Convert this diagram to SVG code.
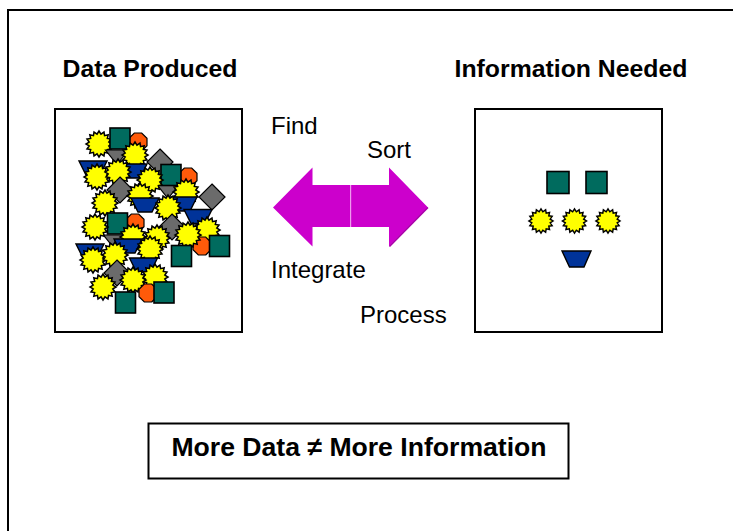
<svg xmlns="http://www.w3.org/2000/svg" xmlns:xlink="http://www.w3.org/1999/xlink" width="733" height="531" viewBox="0 0 733 531">
<style>
.box{fill:#fff;stroke:#000;stroke-width:2}
.t{font-family:"Liberation Sans",Arial,sans-serif;fill:#000}
.b{font-weight:bold}
.st{fill:#ffff00;stroke:#000;stroke-width:1.3;stroke-linejoin:miter}
.sq{fill:#006b5e;stroke:#000;stroke-width:1.6}
.oc{fill:#ff5a0a;stroke:#000;stroke-width:1.2}
.dm{fill:#6b6b6b;stroke:#000;stroke-width:1.2}
.tr{fill:#003399;stroke:#000;stroke-width:1.4}
</style>
<defs>
<polygon id="star0" class="st" points="11,0 8.34,1.66 10.16,4.21 7.07,4.72 7.78,7.78 4.72,7.07 4.21,10.16 1.66,8.34 0,11 -1.66,8.34 -4.21,10.16 -4.72,7.07 -7.78,7.78 -7.07,4.72 -10.16,4.21 -8.34,1.66 -11,0 -8.34,-1.66 -10.16,-4.21 -7.07,-4.72 -7.78,-7.78 -4.72,-7.07 -4.21,-10.16 -1.66,-8.34 0,-11 1.66,-8.34 4.21,-10.16 4.72,-7.07 7.78,-7.78 7.07,-4.72 10.16,-4.21 8.34,-1.66"/>
<use id="star" xlink:href="#star0" transform="scale(1.18)"/>
<rect id="sq" class="sq" x="-10" y="-10.5" width="20" height="21"/>
<polygon id="oct" class="oc" points="3.7,9 9,3.7 9,-3.7 3.7,-9 -3.7,-9 -9,-3.7 -9,3.7 -3.7,9"/>
<polygon id="dia" class="dm" points="0,-13 13,0 0,13 -13,0"/>
<polygon id="tri" class="dm" points="-11.5,-7 11.5,-7 0,7.5"/>
<polygon id="trap" class="tr" points="-14,-7 14,-7 7,7 -7,7"/>
</defs>

<rect id="frame" x="8" y="10" width="740" height="540" fill="#fff" stroke="#000" stroke-width="2"/>

<g id="data-produced">
<text class="t b" x="150" y="77" font-size="24.8" text-anchor="middle">Data Produced</text>
<rect class="box" x="55" y="109" width="187" height="223"/>
<g>
<use xlink:href="#oct" x="138" y="142"/>
<use xlink:href="#star" x="99" y="144"/>
<use xlink:href="#tri" x="117" y="157"/>
<use xlink:href="#sq" x="120" y="138.5"/>
<use xlink:href="#star" x="135" y="155"/>
<use xlink:href="#dia" x="160" y="162"/>
<use xlink:href="#trap" x="133" y="171"/>
<use xlink:href="#trap" x="93" y="168"/>
<use xlink:href="#star" x="97" y="177"/>
<use xlink:href="#star" x="118" y="172"/>
<use xlink:href="#oct" x="188" y="177"/>
<use xlink:href="#tri" x="168" y="191"/>
<use xlink:href="#sq" x="171" y="175"/>
<use xlink:href="#star" x="150" y="180"/>
<use xlink:href="#star" x="186" y="192"/>
<use xlink:href="#dia" x="120" y="190"/>
<use xlink:href="#dia" x="212" y="197"/>
<use xlink:href="#trap" x="183" y="204"/>
<use xlink:href="#star" x="105" y="203"/>
<use xlink:href="#star" x="140" y="196"/>
<use xlink:href="#trap" x="145" y="205"/>
<use xlink:href="#star" x="168" y="208"/>
<use xlink:href="#trap" x="198" y="216.5"/>
<use xlink:href="#oct" x="135" y="223"/>
<use xlink:href="#tri" x="115" y="242"/>
<use xlink:href="#sq" x="117.5" y="223.5"/>
<use xlink:href="#star" x="95" y="227"/>
<use xlink:href="#dia" x="172" y="227"/>
<use xlink:href="#star" x="207" y="230"/>
<use xlink:href="#oct" x="202" y="246"/>
<use xlink:href="#sq" x="219.5" y="246"/>
<use xlink:href="#star" x="188" y="235"/>
<use xlink:href="#star" x="133" y="237"/>
<use xlink:href="#star" x="157" y="238"/>
<use xlink:href="#trap" x="128" y="246"/>
<use xlink:href="#sq" x="181.5" y="256"/>
<use xlink:href="#trap" x="90" y="251"/>
<use xlink:href="#star" x="93" y="260"/>
<use xlink:href="#star" x="115" y="255"/>
<use xlink:href="#star" x="150" y="249"/>
<use xlink:href="#trap" x="143.5" y="265"/>
<use xlink:href="#dia" x="117" y="273"/>
<use xlink:href="#star" x="155" y="277"/>
<use xlink:href="#star" x="133" y="280"/>
<use xlink:href="#star" x="103" y="287"/>
<use xlink:href="#oct" x="148" y="293"/>
<use xlink:href="#sq" x="164" y="292.5"/>
<use xlink:href="#sq" x="125.5" y="302.5"/>
</g>
</g>

<g id="information-needed">
<text class="t b" x="571" y="77" font-size="24.8" text-anchor="middle">Information Needed</text>
<rect class="box" x="475" y="109" width="187" height="223"/>
<rect class="sq" x="547" y="171.5" width="22" height="22"/>
<rect class="sq" x="586" y="171.5" width="21" height="22"/>
<use xlink:href="#star0" transform="translate(541,221) scale(1.1)"/>
<use xlink:href="#star0" transform="translate(574.5,221) scale(1.1)"/>
<use xlink:href="#star0" transform="translate(608,221) scale(1.1)"/>
<polygon class="tr" points="562,251 591,251 584,267 569.5,267"/>
</g>

<g id="connectors">
<polygon fill="#cc00cc" points="273,207.5 312.5,167.5 312.5,185 350.5,185 350.5,227 312.5,227 312.5,246.5"/>
<polygon fill="#cc00cc" points="351,185 389,185 389,167.5 428,207.5 389,246.5 389,227 351,227"/>
<line x1="350.7" y1="185" x2="350.7" y2="227" stroke="#f0a0f0" stroke-width="1"/>
<line x1="428" y1="207.5" x2="389.5" y2="246.5" stroke="#a800a8" stroke-width="1.5"/>
</g>

<g id="labels">
<text class="t" x="271" y="134" font-size="24">Find</text>
<text class="t" x="367" y="158" font-size="24">Sort</text>
<text class="t" x="271" y="278" font-size="24">Integrate</text>
<text class="t" x="360" y="323" font-size="24">Process</text>
</g>

<g id="summary">
<rect class="box" x="148.5" y="423.5" width="420" height="55"/>
<text class="t b" x="359" y="456" font-size="26.6" text-anchor="middle">More Data ≠ More Information</text>
</g>
</svg>
